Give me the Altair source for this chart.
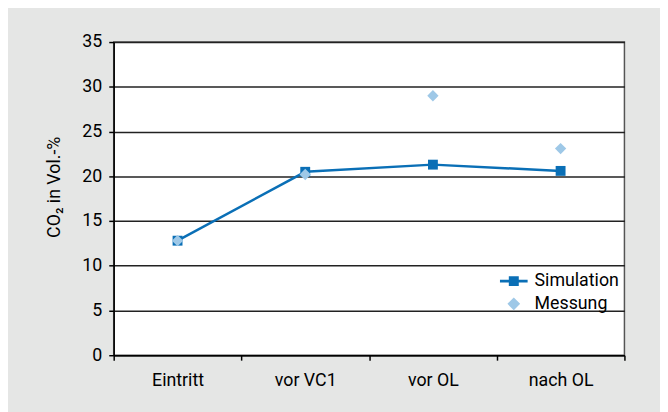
import altair as alt
import pandas as pd

categories = ["Eintritt", "vor VC1", "vor OL", "nach OL"]
simulation = [12.8, 20.5, 21.3, 20.6]
messung = [12.8, 20.2, 29.0, 23.1]
series_names = ["Simulation", "Messung"]
y_ticks = [0, 5, 10, 15, 20, 25, 30, 35]

rows = []
for c, v in zip(categories, simulation):
    rows.append({"Messstelle": c, "Serie": "Simulation", "CO2": v})
for c, v in zip(categories, messung):
    rows.append({"Messstelle": c, "Serie": "Messung", "CO2": v})
df = pd.DataFrame(rows)

FONT = "Roboto, Liberation Sans, sans-serif"
FS = 18
BLUE = "#0a6fb6"
LIGHT = "#9ec8e7"
COMBO = "M-1,-0.1L1,-0.1L1,0.1L-1,0.1Z M-0.36,-0.36L0.36,-0.36L0.36,0.36L-0.36,0.36Z"
DIAMOND = "M0,-0.46L0.46,0L0,0.46L-0.46,0Z"

x = alt.X(
    "Messstelle:N",
    sort=categories,
    scale=alt.Scale(domain=categories, paddingInner=0, paddingOuter=0),
    axis=alt.Axis(title=None, tickBand="extent", labelAngle=0, labelPadding=12,
                  grid=False),
)
y = alt.Y(
    "CO2:Q",
    scale=alt.Scale(domain=[0, 35], nice=False),
    axis=alt.Axis(values=y_ticks, title="CO₂ in Vol.-%", labelPadding=7,
                  grid=True, gridColor="#222222", gridWidth=1.5,
                  titleX=-55, titleY=146.5, titleBaseline="alphabetic",
                  titleFont=FONT, titleFontSize=FS, titleFontWeight="normal",
                  titleColor="black", titleAngle=270),
)
legend_props = dict(
    orient="none", legendX=391, legendY=228, title=None,
    labelFont=FONT, labelFontSize=FS, labelColor="black", labelOffset=7,
    symbolSize=784, rowPadding=-5, padding=0, symbolStrokeWidth=0,
    direction="vertical",
)
color_leg = alt.Color("Serie:N", scale=alt.Scale(domain=series_names, range=[BLUE, LIGHT]),
                      legend=alt.Legend(**legend_props))
shape_leg = alt.Shape("Serie:N", scale=alt.Scale(domain=series_names, range=[COMBO, DIAMOND]),
                      legend=alt.Legend(**legend_props))

base = alt.Chart(df)
line = base.transform_filter(alt.datum.Serie == "Simulation").mark_line(
    strokeWidth=2.5, color=BLUE).encode(x=x, y=y)
squares = base.transform_filter(alt.datum.Serie == "Simulation").mark_point(
    shape="square", filled=True, size=100, opacity=1, color=BLUE).encode(x=x, y=y)
diamonds = base.transform_filter(alt.datum.Serie == "Messung").mark_point(
    filled=True, size=620, opacity=1, strokeWidth=0).encode(x=x, y=y, color=color_leg, shape=shape_leg)

chart = alt.layer(line, squares, diamonds).properties(
    width=517, height=317,
    padding={"left": 107, "top": 32, "right": 36, "bottom": 55},
    autosize="none",
    background="#e5e6e5",
).configure_view(
    fill="white", stroke="#555555", strokeWidth=1.5,
).configure_axis(
    domainColor="black", domainWidth=1.5, tickColor="black", tickWidth=1.5, tickSize=5,
    labelFont=FONT, labelFontSize=FS, labelColor="black",
)

chart.save("out.html", embed_options={"renderer": "svg", "actions": False})
